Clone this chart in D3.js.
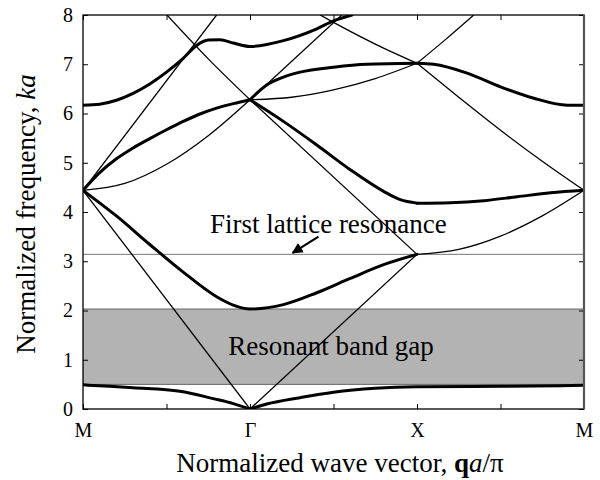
<!DOCTYPE html>
<html>
<head>
<meta charset="utf-8">
<script src="https://cdn.jsdelivr.net/npm/d3@7"></script>
<style>
  body { margin: 0; background: #fff; }
  text { font-family: "Liberation Serif", "Times New Roman", serif; fill: #000; }
</style>
</head>
<body>
<svg id="bands" width="600" height="480"></svg>
<script>
// path labels along the x axis (M - Gamma - X - M), one unit per segment
const kLabels = ["M", "\u0393", "X", "M"];
const yTicks = d3.range(0, 9);

// resonant band gap and first lattice resonance (ka)
const gapLow = 0.5, gapHigh = 2.03;
const resonance = 3.14;

// empty-lattice (thin) lines, [k, ka]
const thinMG1 = [[0, 4.44], [1, 0]];
const thinGX1 = [[1, 0], [2, 3.14]];
const thinXM1 = [[2, 3.14], [2.25, 3.24], [2.5, 3.51], [2.75, 3.92], [3, 4.44]];
const thinMG2 = [[0, 4.44], [0.25, 4.58], [0.5, 4.97], [0.75, 5.55], [1, 6.28]];
const thinMG3 = [[0, 4.44], [0.8, 8.0]];
const thinMG4 = [[0.5, 8.01], [0.75, 7.11], [1, 6.28]];
const thinGX2 = [[1, 6.28], [2, 3.14]];
const thinGX3 = [[1, 6.28], [1.25, 6.33], [1.5, 6.48], [1.75, 6.71], [2, 7.02]];
const thinGX4 = [[1.42, 8.0], [1.5, 7.85], [1.75, 7.41], [2, 7.02]];
const thinGX5 = [[1, 6.28], [1.55, 8.0]];
const thinXM2 = [[2, 7.02], [2.25, 6.33], [2.5, 5.66], [2.75, 5.03], [3, 4.44]];
const thinXM3 = [[2, 7.02], [2.17, 7.5], [2.34, 8.0]];

// resonant (thick) bands
const band1a = [[0, 0.49], [0.16, 0.46], [0.3, 0.43], [0.58, 0.36], [0.78, 0.21], [0.9, 0.11], [1, 0]];
const band1b = [[1, 0], [1.1, 0.1], [1.3, 0.23], [1.5, 0.34], [1.75, 0.42], [2, 0.45], [2.5, 0.46], [3, 0.48]];
const band2 = [[0, 4.44], [0.2, 3.92], [0.4, 3.34], [0.6, 2.78], [0.8, 2.28], [0.9, 2.11], [1, 2.03],
               [1.2, 2.12], [1.4, 2.36], [1.6, 2.65], [1.8, 2.93], [2, 3.14]];
const band3 = [[0, 4.44], [0.1, 4.8], [0.2, 5.08], [0.3, 5.3], [0.4, 5.49], [0.5, 5.67], [0.6, 5.84],
               [0.7, 5.99], [0.8, 6.11], [0.9, 6.2], [1, 6.28]];
const band4 = [[1, 6.28], [1.1, 6.58], [1.2, 6.74], [1.3, 6.84], [1.5, 6.94], [1.7, 7.0], [2, 7.02]];
const band5 = [[2, 7.02], [2.1, 7.0], [2.3, 6.82], [2.5, 6.54], [2.7, 6.31], [2.9, 6.17], [3, 6.17]];
const band6 = [[2, 4.18], [2.2, 4.19], [2.4, 4.23], [2.6, 4.31], [2.8, 4.39], [3, 4.44]];
const band7 = [[1, 6.28], [1.2, 5.84], [1.4, 5.36], [1.6, 4.86], [1.8, 4.42], [1.9, 4.25], [2, 4.18]];
const band8 = [[0, 6.17], [0.1, 6.19], [0.2, 6.27], [0.3, 6.41], [0.4, 6.6], [0.5, 6.84], [0.6, 7.12],
               [0.68, 7.38], [0.75, 7.49], [0.82, 7.5], [0.9, 7.43], [1, 7.36],
               [1.2, 7.48], [1.4, 7.72], [1.5, 7.88], [1.61, 8.0]];

const thinLines = [thinMG1, thinGX1, thinXM1, thinMG2, thinMG3, thinMG4, thinGX2, thinGX3, thinGX4, thinGX5, thinXM2, thinXM3];
const thickBands = [band1a, band1b, band2, band3, band4, band5, band6, band7, band8];

const svg = d3.select("#bands");
const x = d3.scaleLinear().domain([0, 3]).range([83, 584]);
const y = d3.scaleLinear().domain([0, 8]).range([409, 15]);

svg.append("clipPath").attr("id", "plotClip")
  .append("rect")
  .attr("x", x(0)).attr("y", y(8))
  .attr("width", x(3) - x(0)).attr("height", y(0) - y(8));

// band gap
svg.append("rect")
  .attr("x", x(0)).attr("y", y(gapHigh))
  .attr("width", x(3) - x(0)).attr("height", y(gapLow) - y(gapHigh))
  .attr("fill", "#b3b3b3");
[gapLow, gapHigh].forEach(v => svg.append("line")
  .attr("x1", x(0)).attr("x2", x(3)).attr("y1", y(v)).attr("y2", y(v))
  .attr("stroke", "#666").attr("stroke-width", 1));

// first lattice resonance
svg.append("line")
  .attr("x1", x(0)).attr("x2", x(3)).attr("y1", y(resonance)).attr("y2", y(resonance))
  .attr("stroke", "#777").attr("stroke-width", 1);

const plot = svg.append("g").attr("clip-path", "url(#plotClip)");
const line = d3.line().x(d => x(d[0])).y(d => y(d[1])).curve(d3.curveMonotoneX);

plot.selectAll("path.thin").data(thinLines).join("path")
  .attr("class", "thin")
  .attr("d", line)
  .attr("fill", "none").attr("stroke", "#000").attr("stroke-width", 1.3);

plot.selectAll("path.thick").data(thickBands).join("path")
  .attr("class", "thick")
  .attr("d", line)
  .attr("fill", "none").attr("stroke", "#000").attr("stroke-width", 3)
  .attr("stroke-linecap", "round");

// axes, ticks pointing inwards
const xTicks = d3.range(0, 3.01, 0.5);
const fmtK = d => Number.isInteger(d) ? kLabels[d] : "";
const axB = svg.append("g").attr("transform", `translate(0,${y(0)})`)
  .call(d3.axisBottom(x).tickValues(xTicks).tickFormat(fmtK).tickSizeInner(-5).tickSizeOuter(0).tickPadding(14));
const axT = svg.append("g").attr("transform", `translate(0,${y(8)})`)
  .call(d3.axisTop(x).tickValues(xTicks).tickFormat("").tickSizeInner(-5).tickSizeOuter(0));
const axL = svg.append("g").attr("transform", `translate(${x(0)},0)`)
  .call(d3.axisLeft(y).tickValues(yTicks).tickFormat(d3.format("d")).tickSizeInner(-5).tickSizeOuter(0).tickPadding(10));
const axR = svg.append("g").attr("transform", `translate(${x(3)},0)`)
  .call(d3.axisRight(y).tickValues(yTicks).tickFormat("").tickSizeInner(-5).tickSizeOuter(0));
[axB, axT, axL, axR].forEach(g => {
  g.select(".domain").remove();
  g.selectAll("line").attr("stroke", "#000").attr("stroke-width", 1);
  g.selectAll("text").attr("font-size", 20).attr("font-family", "Liberation Serif, serif");
});

svg.append("rect")
  .attr("x", x(0)).attr("y", y(8))
  .attr("width", x(3) - x(0)).attr("height", y(0) - y(8))
  .attr("fill", "none").attr("stroke", "#000").attr("stroke-width", 1.3);
svg.append("line")
  .attr("x1", x(3)).attr("x2", x(3)).attr("y1", y(8)).attr("y2", y(0))
  .attr("stroke", "#555").attr("stroke-width", 2.2);

// axis titles
const xt = svg.append("text")
  .attr("x", 340).attr("y", 472)
  .attr("text-anchor", "middle").attr("font-size", 27);
xt.append("tspan").text("Normalized wave vector, ");
xt.append("tspan").attr("font-weight", "bold").text("q");
xt.append("tspan").attr("font-style", "italic").text("a");
xt.append("tspan").text("/\u03c0");

const yt = svg.append("text")
  .attr("transform", "translate(35,214) rotate(-90)")
  .attr("text-anchor", "middle").attr("font-size", 27);
yt.append("tspan").text("Normalized frequency, ");
yt.append("tspan").attr("font-style", "italic").text("ka");

// annotations
svg.append("text")
  .attr("x", x(0.76)).attr("y", y(3.57))
  .attr("font-size", 27).text("First lattice resonance");
svg.append("text")
  .attr("x", x(0.87)).attr("y", y(1.1))
  .attr("font-size", 27).text("Resonant band gap");

svg.append("defs").append("marker")
  .attr("id", "arrowHead").attr("viewBox", "0 0 10 10")
  .attr("refX", 9).attr("refY", 5)
  .attr("markerWidth", 5).attr("markerHeight", 5)
  .attr("orient", "auto")
  .append("path").attr("d", "M0,0 L10,5 L0,10 Z").attr("fill", "#000");
svg.append("line")
  .attr("x1", x(1.41)).attr("y1", y(3.5))
  .attr("x2", x(1.255)).attr("y2", y(3.17))
  .attr("stroke", "#000").attr("stroke-width", 2.2)
  .attr("marker-end", "url(#arrowHead)");
</script>
</body>
</html>
